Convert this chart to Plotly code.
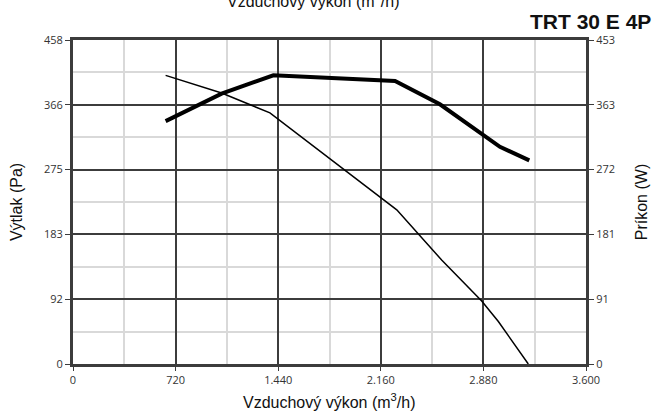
import plotly.graph_objects as go

# pressure curve (left axis, Pa)
flow_p = [650, 1043, 1382, 1628, 1897, 2160, 2272, 2587, 2868, 2985, 3195]
pressure = [408, 383, 355, 317, 275, 234, 218, 147, 89, 60, 0]

# power curve (right axis, W)
flow_w = [650, 1043, 1406, 2260, 2575, 2716, 2880, 2996, 3202]
power = [340, 378.5, 404, 396, 363.5, 343.5, 320, 304, 285]

x_ticks = [0, 720, 1440, 2160, 2880, 3600]
x_labels = ["0", "720", "1.440", "2.160", "2.880", "3.600"]
y_max, y2_max = 458, 453.5
y_labels = ["0", "92", "183", "275", "366", "458"]
y2_labels = ["0", "91", "181", "272", "363", "453"]

dark = "#3c3c3c"; light = "#d9d9d9"; tickfont = dict(family="Open Sans", size=11, color="#333")
titlefont = dict(family="Liberation Sans", size=16, color="#111")

fig = go.Figure()
fig.add_trace(go.Scatter(x=flow_p, y=pressure, mode="lines", line=dict(color="black", width=1.5), yaxis="y"))
fig.add_trace(go.Scatter(x=flow_w, y=power, mode="lines", line=dict(color="black", width=4), yaxis="y2"))

fig.update_layout(
    width=663, height=416, showlegend=False, plot_bgcolor="white", paper_bgcolor="white",
    margin=dict(l=73, r=77, t=40, b=52),
    xaxis=dict(range=[0, 3600], tickvals=x_ticks, ticktext=x_labels, showgrid=True, gridcolor=dark, gridwidth=2,
               minor=dict(dtick=360, showgrid=True, gridcolor=light, gridwidth=2, tick0=0),
               showline=True, linecolor=dark, linewidth=3, mirror=True, ticks="outside", ticklen=4, tickcolor=dark,
               tickfont=tickfont, zeroline=False),
    yaxis=dict(range=[0, y_max], tickvals=[i * y_max / 5 for i in range(6)], ticktext=y_labels, showgrid=True,
               gridcolor=dark, gridwidth=2, minor=dict(tickvals=[(i + 0.5) * y_max / 5 for i in range(5)], showgrid=True,
               gridcolor=light, gridwidth=2), showline=True, linecolor=dark, linewidth=3, ticks="outside",
               ticklen=5, tickcolor=dark, tickfont=tickfont, zeroline=False,
               title=dict(text="Výtlak (Pa)", font=titlefont, standoff=18)),
    yaxis2=dict(range=[0, y2_max], overlaying="y", side="right", tickvals=[i * y2_max / 5 for i in range(6)],
                ticktext=y2_labels, showgrid=False, showline=True, linecolor=dark, linewidth=3, ticks="outside",
                ticklen=5, tickcolor=dark, tickfont=tickfont, zeroline=False,
                title=dict(text="Príkon (W)", font=titlefont, standoff=22)),
)
# x axis title (bottom) and its clipped copy at the top
fig.add_annotation(text="Vzduchový výkon (m<sup>3</sup>/h)", xref="paper", yref="paper", x=0.5, y=-37 / 324,
                   yanchor="middle", showarrow=False, font=titlefont)
fig.add_annotation(text="Vzduchový výkon (m<sup>3</sup>/h)", xref="paper", yref="paper", x=(313 - 73) / 513, y=1 + 28 / 324,
                   yanchor="bottom", showarrow=False, font=titlefont)
fig.add_annotation(text="<b>TRT 30 E 4P</b>", xref="paper", yref="paper", x=(653 - 73) / 513, y=1 + 5 / 324,
                   xanchor="right", yanchor="bottom", showarrow=False, font=dict(family="Liberation Sans", size=21, color="#111"))
fig.write_html("out.html", post_script="document.body.style.margin='0';", config={"displayModeBar": False})
